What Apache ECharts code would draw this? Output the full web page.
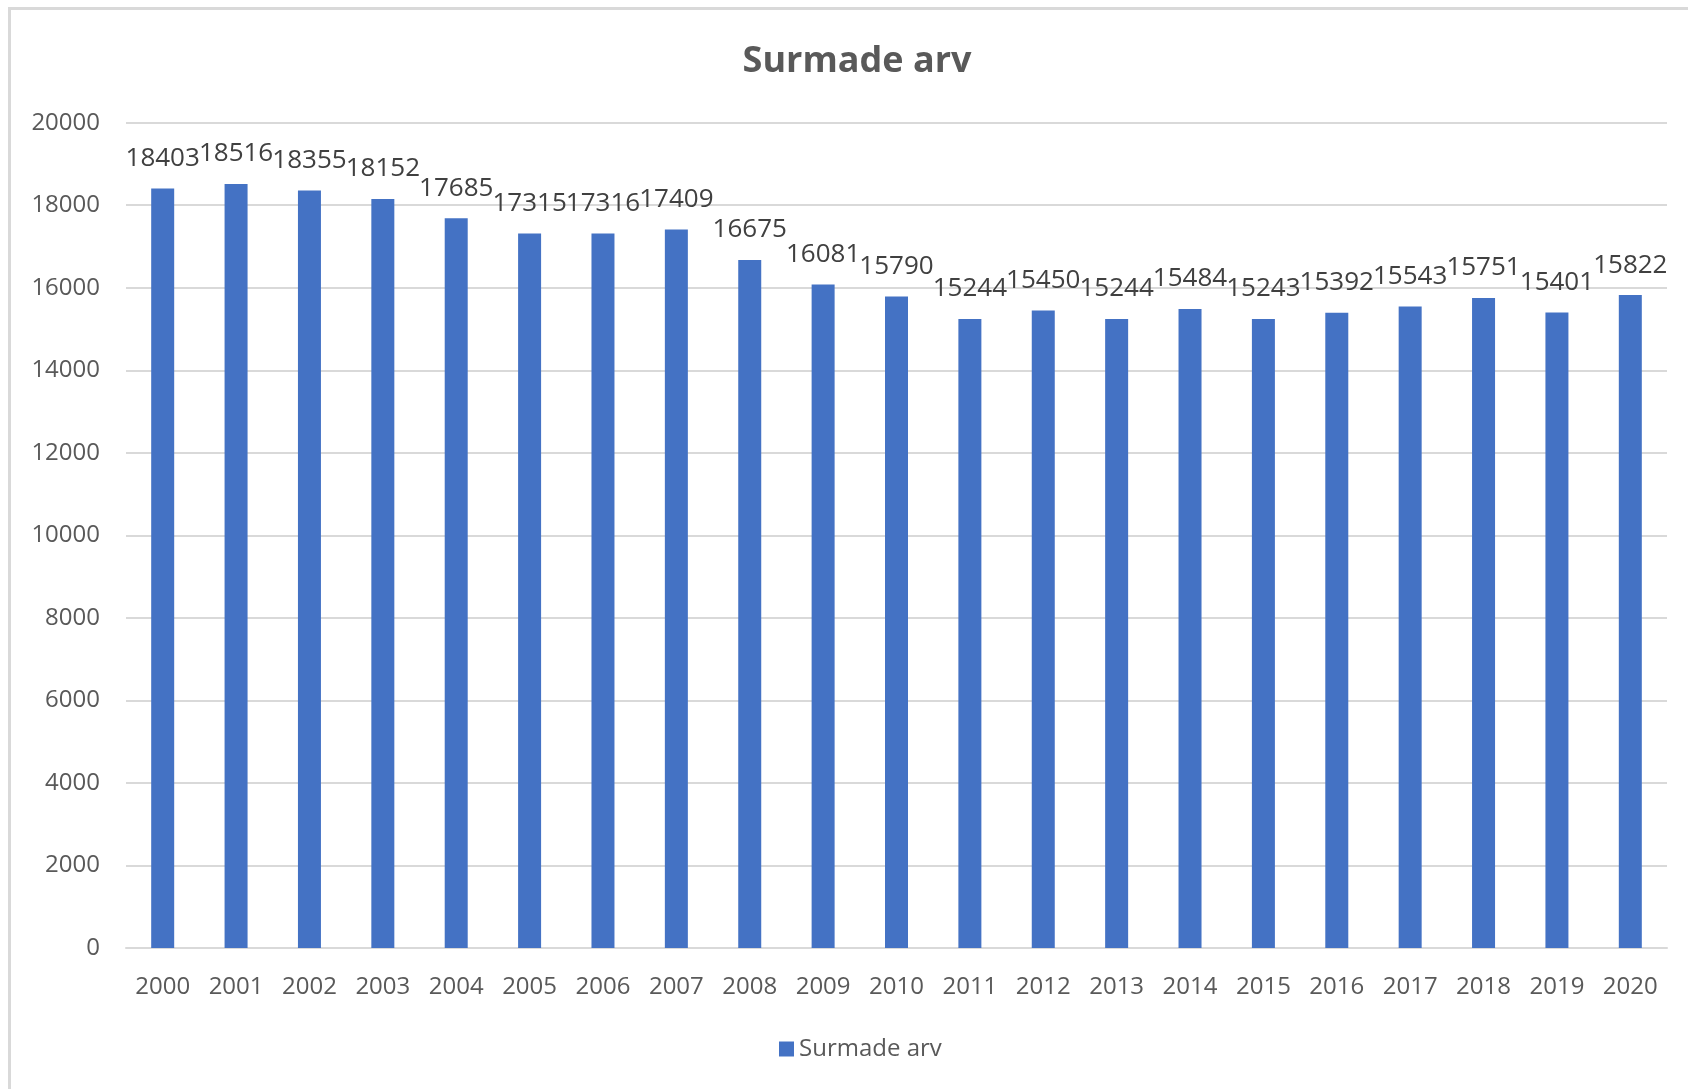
<!DOCTYPE html>
<html>
<head>
<meta charset="utf-8">
<script src="https://cdn.jsdelivr.net/npm/echarts@6/dist/echarts.min.js"></script>
<style>
html,body{margin:0;padding:0;background:#fff;}
#chart{width:1688px;height:1089px;}
</style>
</head>
<body>
<div id="chart"></div>
<script>
const years = ['2000','2001','2002','2003','2004','2005','2006','2007','2008','2009','2010','2011','2012','2013','2014','2015','2016','2017','2018','2019','2020'];
const deaths = [18403,18516,18355,18152,17685,17315,17316,17409,16675,16081,15790,15244,15450,15244,15484,15243,15392,15543,15751,15401,15822];
const seriesName = 'Surmade arv';
const titleText = 'Surmade arv';

const chart = echarts.init(document.getElementById('chart'));
chart.setOption({
  animation: false,
  backgroundColor: '#ffffff',
  graphic: [{
    type: 'rect',
    shape: {x: 9.5, y: 8.5, width: 1720, height: 1120},
    style: {fill: 'none', stroke: '#d9d9d9', lineWidth: 3},
    silent: true
  }],
  title: {
    text: titleText,
    left: 852,
    top: 39,
    textAlign: 'center',
    textStyle: {fontFamily: 'Open Sans', fontWeight: 'bold', fontSize: 36, color: '#595959'}
  },
  legend: {
    data: [seriesName],
    bottom: 23,
    left: 774,
    itemWidth: 15,
    itemHeight: 15,
    itemGap: 8,
    icon: 'rect',
    textStyle: {fontFamily: 'Open Sans', fontSize: 24, color: '#595959'}
  },
  grid: {left: 126, right: 21, top: 122.7, bottom: 141, containLabel: false},
  xAxis: {
    type: 'category',
    data: years,
    axisLine: {lineStyle: {color: '#d9d9d9', width: 2}},
    axisTick: {show: false},
    axisLabel: {fontFamily: 'Open Sans', fontSize: 24, color: '#595959', margin: 27}
  },
  yAxis: {
    type: 'value',
    min: 0,
    max: 20000,
    interval: 2000,
    axisLine: {show: false},
    axisTick: {show: false},
    splitLine: {lineStyle: {color: '#d9d9d9', width: 2}},
    axisLabel: {fontFamily: 'Open Sans', fontSize: 24, color: '#595959', margin: 26, formatter: v => String(v)}
  },
  series: [{
    name: seriesName,
    type: 'bar',
    data: deaths,
    barWidth: 23,
    itemStyle: {color: '#4472C4'},
    label: {
      show: true,
      position: 'top',
      distance: 17,
      fontFamily: 'Open Sans',
      fontSize: 26,
      color: '#404040'
    }
  }]
});
</script>
</body>
</html>
